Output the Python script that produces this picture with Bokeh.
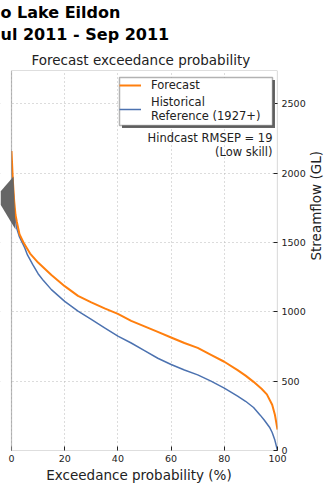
import math
from bokeh.plotting import figure
from bokeh.models import (ColumnDataSource, Legend, LegendItem, Label, FixedTicker,
                          PolyAnnotation, BoxAnnotation, Range1d, Title)
from bokeh.embed import file_html
from bokeh.resources import INLINE

# ---- data ----
fc_prob = [0, 0.5, 1, 1.5, 2, 3, 4.5, 7, 10, 12, 15, 20, 25, 30, 35, 40, 45, 50, 55, 60,
           65, 70, 75, 80, 85, 88, 91, 94, 96, 98, 99, 100]
fc_flow = [2160, 1950, 1800, 1700, 1650, 1560, 1500, 1420, 1355, 1320, 1265, 1185, 1115,
           1068, 1025, 985, 935, 895, 855, 815, 775, 740, 690, 640, 580, 540, 495, 445,
           405, 330, 260, 150]

hist_prob = [0, 0.5, 1, 1.5, 2, 3, 4, 5, 6, 8, 10, 12, 15, 20, 25, 30, 35, 40, 45, 50, 55,
             60, 65, 70, 75, 80, 85, 88, 91, 93.5, 95, 97, 98, 99, 100]
hist_flow = [2080, 1900, 1760, 1660, 1600, 1540, 1500, 1460, 1410, 1340, 1275, 1225, 1160,
             1075, 1005, 945, 885, 825, 775, 720, 665, 620, 580, 545, 500, 450, 392, 355,
             310, 255, 220, 168, 130, 75, 0]

x_ticks = [0, 20, 40, 60, 80, 100]
y_ticks = [0, 500, 1000, 1500, 2000, 2500]
x_lim = [0, 100]
y_lim = [0, 2740]

title_line1 = "o Lake Eildon"
title_line2 = "ul 2011 - Sep 2011"
subtitle = "Forecast exceedance probability"
legend_labels = ["Forecast", "Historical\nReference (1927+)"]
skill_lines = ["Hindcast RMSEP = 19", "(Low skill)"]

# decoration arrow at the left edge (screen px from frame bottom-left)
arrow_xs = [0, 13, 15, 0]
arrow_ys = [259, 274, 221, 246]

FONT = "DejaVu Sans"
INK = "#222222"

p = figure(width=334, height=490, output_backend="svg", toolbar_location=None,
           title_location=None,
           x_range=Range1d(-4.135, 100), y_range=Range1d(y_lim[0], y_lim[1]),
           y_axis_location="right", min_border_left=0, min_border_right=57,
           min_border_top=70, min_border_bottom=40)
p.background_fill_color = "white"
p.border_fill_color = "white"
p.outline_line_color = None

src_f = ColumnDataSource(dict(x=fc_prob, y=fc_flow))
src_h = ColumnDataSource(dict(x=hist_prob, y=hist_flow))
rh = p.line("x", "y", source=src_h, line_color="#4c72b0", line_width=1.5)
rf = p.line("x", "y", source=src_f, line_color="#ff7f0e", line_width=2)

for ax in (p.xaxis[0], p.yaxis[0]):
    ax.major_tick_in = 4
    ax.major_tick_out = 0
    ax.minor_tick_in = 0
    ax.minor_tick_out = 0
    ax.axis_line_color = None
    ax.major_tick_line_color = INK
    ax.major_label_text_font = FONT
    ax.major_label_text_font_size = "9.5px"
    ax.major_label_text_color = INK
    ax.axis_label_text_font = FONT
    ax.axis_label_text_font_size = "13.5px"
    ax.axis_label_text_font_style = "normal"
    ax.axis_label_text_color = INK

p.xaxis.ticker = FixedTicker(ticks=x_ticks)
p.yaxis.ticker = FixedTicker(ticks=y_ticks)
p.xaxis.bounds = (x_lim[0], x_lim[1])
p.xaxis.axis_label = "Exceedance probability (%)"
p.yaxis.axis_label = "Streamflow (GL)"
p.yaxis.axis_label_orientation = math.pi / 2
p.xaxis.major_label_standoff = 4
p.yaxis.major_label_standoff = 4
p.xaxis.axis_label_standoff = 2
p.yaxis.axis_label_standoff = 7

for g in (p.xgrid[0], p.ygrid[0]):
    g.grid_line_color = "#b8b8b8"
    g.grid_line_dash = "1 3"
    g.grid_line_width = 1

# blank margin left of the axes area
p.add_layout(BoxAnnotation(right=x_lim[0], fill_color="white", fill_alpha=1.0,
                           line_color=None))
# axes frame
p.add_layout(BoxAnnotation(left=x_lim[0], right=x_lim[1], bottom=y_lim[0], top=y_lim[1],
                           fill_color=None, line_color=INK, line_width=1.2))

# legend shadow and box
p.add_layout(BoxAnnotation(left=121.5, right=274.5, bottom=322.5, top=370.5,
                           left_units="screen", right_units="screen",
                           bottom_units="screen", top_units="screen",
                           fill_color="#666666", fill_alpha=1.0, line_color=None))
p.add_layout(BoxAnnotation(left=119, right=272, bottom=325, top=373,
                           left_units="screen", right_units="screen",
                           bottom_units="screen", top_units="screen",
                           fill_color="white", fill_alpha=1.0, line_color="black",
                           line_width=1.5))

legend = Legend(items=[LegendItem(label=legend_labels[0], renderers=[rf]),
                       LegendItem(label=legend_labels[1], renderers=[rh])],
                location=(119, 327))
legend.label_text_font = FONT
legend.label_text_font_size = "11.5px"
legend.label_text_line_height = 0.92
legend.label_text_color = INK
legend.border_line_color = None
legend.background_fill_alpha = 0.0
legend.glyph_width = 22
legend.glyph_height = 12
legend.label_height = 12
legend.padding = 5
legend.spacing = 3
legend.margin = 0
legend.label_standoff = 10
p.add_layout(legend, "center")

# skill text
for i, t in enumerate(skill_lines):
    p.add_layout(Label(x=272, y=313 - i * 14, x_units="screen", y_units="screen",
                       text=t, text_align="right", text_baseline="middle",
                       text_font=FONT, text_font_size="11.5px", text_color=INK))

# arrow decoration
p.add_layout(PolyAnnotation(xs=arrow_xs, ys=arrow_ys, xs_units="screen", ys_units="screen",
                            fill_color="#666666", fill_alpha=1.0, line_color=None))

# titles (first added sits closest to the plot)
p.add_layout(Title(text=subtitle, align="left", offset=31, text_font=FONT,
                   text_font_size="13.5px", text_font_style="normal", text_color=INK,
                   standoff=5), "above")
p.add_layout(Title(text=title_line2, align="left", text_font=FONT, text_font_size="16px",
                   text_font_style="bold", text_color="black", standoff=6.5), "above")
p.add_layout(Title(text=title_line1, align="left", text_font=FONT, text_font_size="16px",
                   text_font_style="bold", text_color="black", standoff=-5.5), "above")

open("out.html", "w").write(file_html(p, INLINE))
